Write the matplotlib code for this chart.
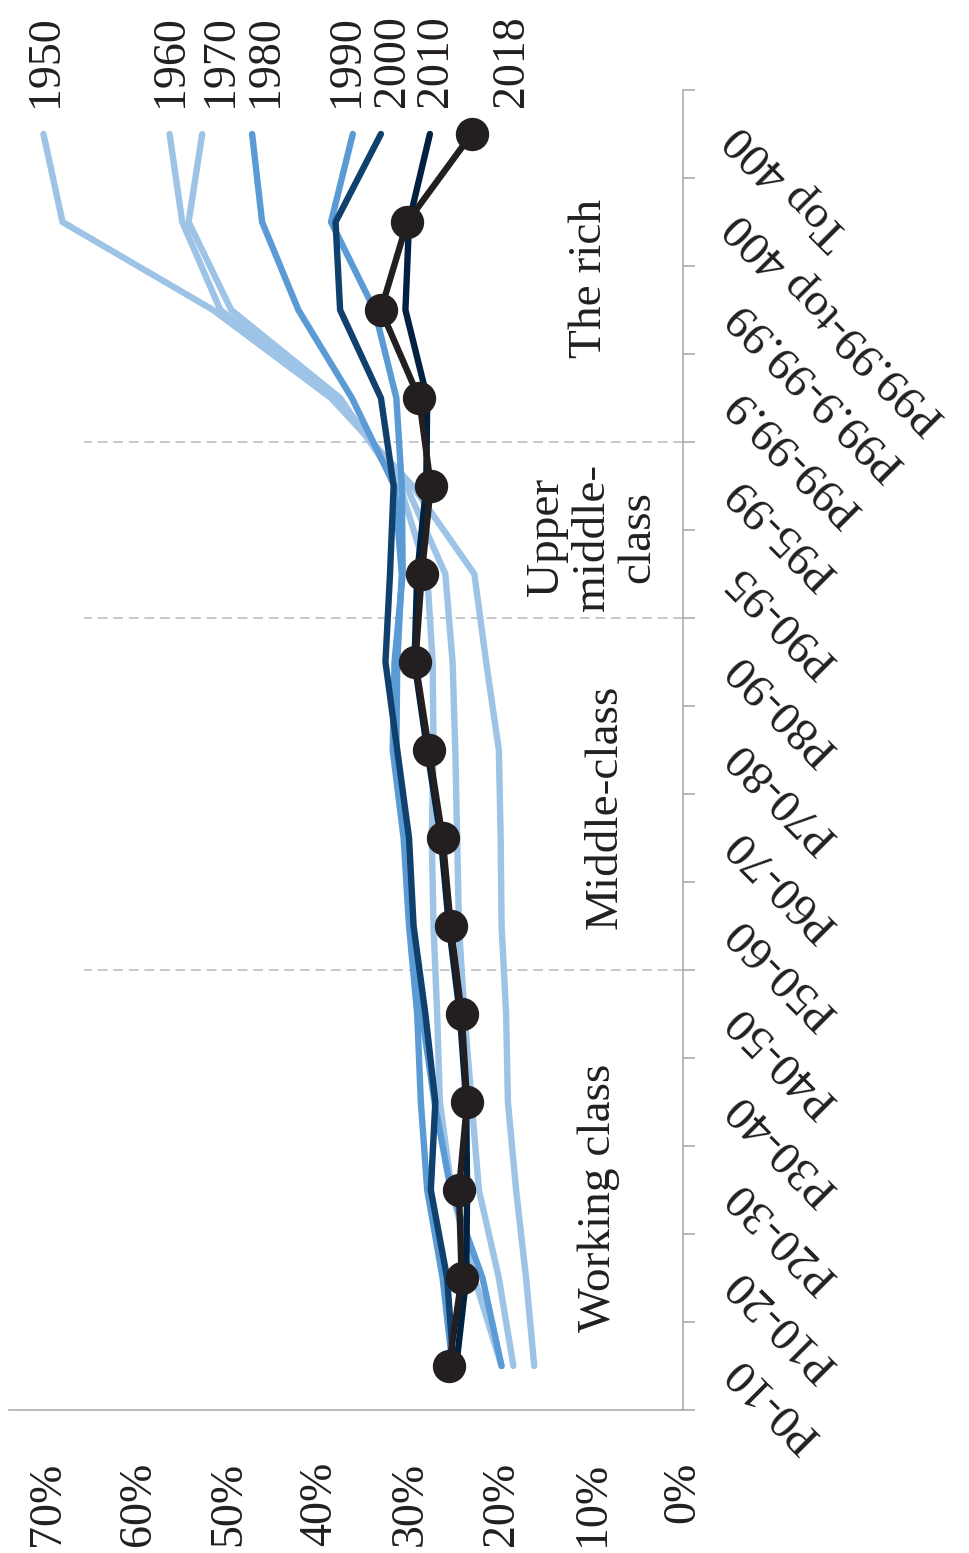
import matplotlib
matplotlib.use("Agg")
import matplotlib.pyplot as plt
from matplotlib.transforms import blended_transform_factory
import numpy as np

# ---------------- data ----------------
categories = ["P0-10", "P10-20", "P20-30", "P30-40", "P40-50", "P50-60",
              "P60-70", "P70-80", "P80-90", "P90-95", "P95-99", "P99-99.9",
              "P99.9-99.99", "P99.99-top 400", "Top 400"]
years = ["1950", "1960", "1970", "1980", "1990", "2000", "2010", "2018"]

rate_1950 = [16.4, 17.3, 18.4, 19.3, 19.5, 20.0, 20.1, 20.3, 21.7, 23.0, 29.8, 38.8, 51.8, 68.4, 70.5]
rate_1960 = [18.7, 20.3, 22.5, 23.3, 24.1, 24.7, 24.9, 25.1, 25.4, 26.2, 30.5, 38.3, 51.0, 55.2, 56.6]
rate_1970 = [20.0, 23.0, 25.5, 26.8, 27.1, 27.5, 27.7, 27.5, 27.6, 28.2, 31.2, 37.8, 49.8, 54.5, 53.0]
rate_1980 = [20.0, 22.1, 25.6, 27.4, 28.8, 29.8, 30.4, 31.6, 31.5, 31.0, 31.8, 36.5, 42.4, 46.4, 47.5]
rate_1990 = [25.4, 26.5, 28.2, 28.9, 29.3, 30.2, 30.8, 32.0, 31.8, 30.9, 31.0, 31.6, 34.0, 38.8, 36.4]
rate_2000 = [25.3, 26.0, 27.8, 27.3, 28.4, 29.7, 30.2, 31.5, 32.8, 32.3, 31.9, 33.3, 37.8, 38.3, 33.3]
rate_2010 = [25.0, 23.9, 23.8, 23.9, 24.6, 25.8, 26.7, 28.2, 29.6, 29.3, 28.3, 28.2, 30.6, 30.2, 27.9]
rate_2018 = [25.8, 24.4, 24.7, 23.8, 24.4, 25.6, 26.5, 28.0, 29.5, 28.8, 27.8, 29.1, 33.3, 30.4, 23.3]

rate_ticks = [0, 10, 20, 30, 40, 50, 60, 70]
group_names = ["Working class", "Middle-class", "Upper\nmiddle-\nclass", "The rich"]
group_bounds = [4.5, 8.5, 10.5]

series = dict(zip(years, [rate_1950, rate_1960, rate_1970, rate_1980,
                          rate_1990, rate_2000, rate_2010, rate_2018]))

# ---------------- style ----------------
plt.rcParams['font.family'] = ['Liberation Serif', 'DejaVu Serif']
FS = 33
light, medium, navy, darknavy, black = "#9dc3e6", "#5b9bd5", "#10406d", "#00213f", "#231f20"
colors = {"1950": light, "1960": light, "1970": light, "1980": medium,
          "1990": medium, "2000": navy, "2010": darknavy, "2018": black}
# horizontal label centre (in %) for the year labels above the Top 400 points
label_x = {"1950": 70.2, "1960": 56.5, "1970": 51.0, "1980": 46.0,
           "1990": 37.1, "2000": 32.0, "2010": 27.3, "2018": 18.9}

W, H = 969, 1553
fig = plt.figure(figsize=(W / 100, H / 100), dpi=100)
ax = fig.add_axes([9 / W, 1 - 1410 / H, 674 / W, 1320 / H])

ypos = np.arange(len(categories))
for i, yr in enumerate(years):
    vals = np.array(series[yr]) / 100
    if yr == "2018":
        ax.plot(vals, ypos, color=colors[yr], lw=4.6, marker="o", ms=23,
                solid_capstyle="round", zorder=10)
    else:
        ax.plot(vals, ypos, color=colors[yr], lw=4.6,
                solid_capstyle="round", zorder=2 + i)
    ax.text(label_x[yr] / 100, 14.31, yr, rotation=90, ha="center", va="bottom",
            fontsize=FS, color="#231f20")

ax.hlines(group_bounds, 0, 0.66, colors="#c8c8c8", linestyles=(0, (5, 3)), lw=1.4, zorder=1)

ax.set_xlim(0.743, 0)
ax.set_ylim(-0.5, len(categories) - 0.5)

for s in ["left", "top"]:
    ax.spines[s].set_visible(False)
for s in ["right", "bottom"]:
    ax.spines[s].set_color("#a6a6a6")
    ax.spines[s].set_linewidth(1.1)

ax.yaxis.tick_right()
ax.set_yticks(np.arange(-0.5, len(categories), 1))
ax.set_yticklabels([])
ax.tick_params(axis="y", length=8.6, width=1.1, color="#a6a6a6", direction="out")

ax.set_xticks([t / 100 for t in rate_ticks])
ax.set_xticklabels([f"{t}%" for t in rate_ticks], rotation=90, fontsize=FS, color="#231f20")
ax.tick_params(axis="x", length=0, pad=37)

trans = blended_transform_factory(ax.transAxes, ax.transData)
for i, c in enumerate(categories):
    ax.text(1 + 50 / 674, i + 0.03, c, rotation=135, rotation_mode="anchor",
            ha="right", va="center", fontsize=34, color="#231f20", transform=trans)

group_pos = [(0.093, 1.91), (0.086, 6.36), (0.100, 9.42), (0.1025, 12.36)]
for name, (gx, gy) in zip(group_names, group_pos):
    ax.text(gx, gy, name, rotation=90, ha="center", va="center", fontsize=34,
            linespacing=1.1, multialignment="center", color="#231f20")

fig.savefig("out.png", dpi=100)
